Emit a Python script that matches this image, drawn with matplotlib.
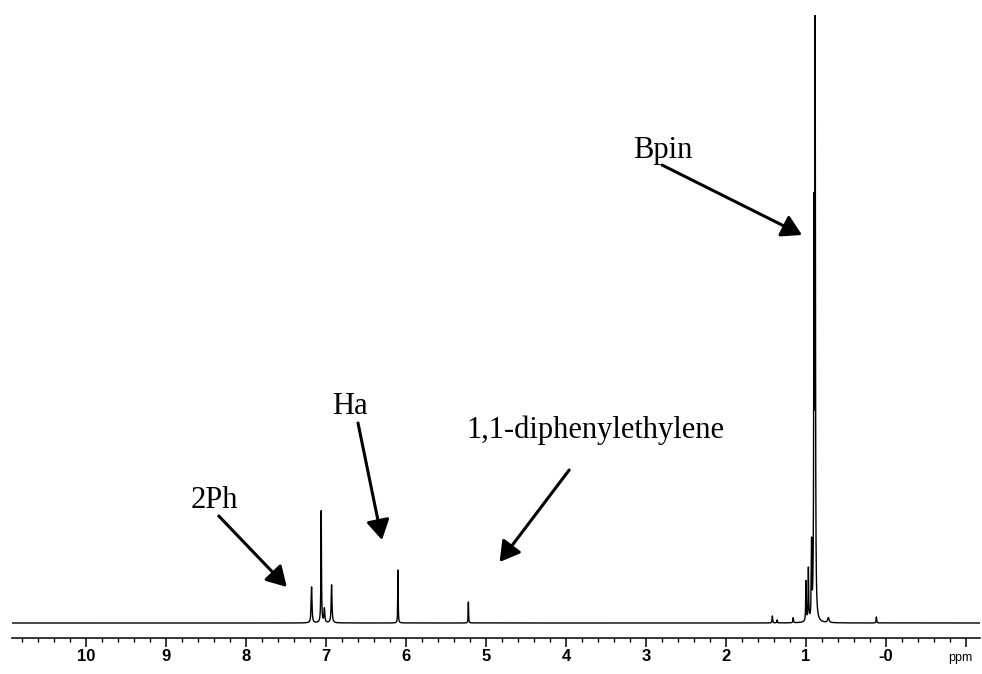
import numpy as np
import matplotlib
matplotlib.use("Agg")
import matplotlib.pyplot as plt
from matplotlib.ticker import MultipleLocator

# Peak list of the 1H spectrum: chemical shift (ppm), height, half-width (ppm)
peak_ppm = [7.18, 7.06, 7.02, 6.93, 6.10, 5.22,
            1.42, 1.36, 1.16, 1.00, 0.97, 0.93, 0.90, 0.885, 0.72, 0.12]
peak_height = [36, 112, 14, 38, 53, 21,
               7, 3, 5, 40, 52, 74, 390, 582, 5, 6]
peak_hwhm = [0.006, 0.004, 0.006, 0.006, 0.003, 0.003,
             0.004, 0.004, 0.004, 0.004, 0.004, 0.004, 0.004, 0.004, 0.01, 0.004]

tick_values = [10, 9, 8, 7, 6, 5, 4, 3, 2, 1, 0, -1]
tick_labels = ["10", "9", "8", "7", "6", "5", "4", "3", "2", "1", "-0", ""]

label_texts = ["Bpin", "Ha", "2Ph", "1,1-diphenylethylene"]

fig = plt.figure(figsize=(9.82, 6.74), dpi=100)
ax = fig.add_axes([12 / 982, 36 / 674, 968 / 982, 623 / 674])

# Sum of Lorentzian lines on a fine ppm grid
ppm = np.linspace(-1.175, 10.925, 40000)
spec = np.zeros_like(ppm)
for p, h, g in zip(peak_ppm, peak_height, peak_hwhm):
    spec += h * g ** 2 / ((ppm - p) ** 2 + g ** 2)

ax.plot(ppm, spec, color="black", lw=1.0)
ax.set_xlim(10.925, -1.175)
ax.set_ylim(-15, 608)

for side in ("top", "left", "right"):
    ax.spines[side].set_visible(False)
ax.spines["bottom"].set_linewidth(1.1)
ax.set_yticks([])

sans = ["Liberation Sans Narrow", "Liberation Sans", "DejaVu Sans"]
ax.set_xticks(tick_values)
ax.set_xticklabels(tick_labels)
ax.xaxis.set_minor_locator(MultipleLocator(0.2))
ax.tick_params(axis="x", which="major", direction="out", length=6.5, width=1.1, pad=1.5)
ax.tick_params(axis="x", which="minor", direction="out", length=3.2, width=1.0)
for lbl in ax.get_xticklabels():
    lbl.set_family(sans)
    lbl.set_fontweight("bold")
    lbl.set_fontsize(12)

ax.text(-0.93, -0.037, "ppm", transform=ax.get_xaxis_transform(),
        ha="center", va="baseline", fontsize=9, family=sans)

serif = ["Liberation Serif", "DejaVu Serif"]
arrow_kw = dict(arrowstyle="-|>,head_length=0.6,head_width=0.35", color="black",
                lw=2.2, mutation_scale=20, shrinkA=0, shrinkB=0)

# Bpin
ax.text(2.79, 465, label_texts[0], ha="center", va="baseline", fontsize=22, family=serif)
ax.annotate("", xy=(1.05, 388), xytext=(2.8, 458), arrowprops=arrow_kw)
# Ha
ax.text(6.7, 209, label_texts[1], ha="center", va="baseline", fontsize=22, family=serif)
ax.annotate("", xy=(6.3, 83), xytext=(6.6, 200), arrowprops=arrow_kw)
# 2Ph
ax.text(8.39, 115, label_texts[2], ha="center", va="baseline", fontsize=22, family=serif)
ax.annotate("", xy=(7.49, 36), xytext=(8.34, 107), arrowprops=arrow_kw)
# 1,1-diphenylethylene
ax.text(5.25, 185, label_texts[3], ha="left", va="baseline", fontsize=22, family=serif)
ax.annotate("", xy=(4.83, 61), xytext=(3.96, 153), arrowprops=arrow_kw)

fig.savefig("out.png", dpi=100)
